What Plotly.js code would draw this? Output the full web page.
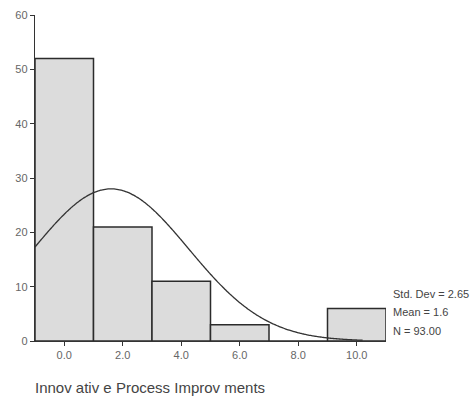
<!DOCTYPE html>
<html>
<head>
<meta charset="utf-8">
<script src="https://cdn.plot.ly/plotly-3.0.1.min.js"></script>
<style>
  html, body { margin: 0; padding: 0; background: #fff; }
  #chart { width: 473px; height: 398px; }
</style>
</head>
<body>
<div id="chart"></div>
<script>
// Histogram of innovative process improvements (bin width 2)
const binCenters = [0, 2, 4, 6, 8, 10];
const binCounts = [52, 21, 11, 3, 0, 6];
const tickValues = [0, 2, 4, 6, 8, 10];
const tickLabels = ['0.0', '2.0', '4.0', '6.0', '8.0', '10.0'];

// Summary statistics shown beside the plot
const stdDev = 2.65;
const mean = 1.6;
const nCases = 93;
const binWidth = 2;
const statLines = ['Std. Dev = 2.65', 'Mean = 1.6', 'N = 93.00'];

// Normal curve scaled to the histogram counts
const curveStart = -1, curveEnd = 10.2, curveStep = 0.05;
const curveX = [], curveY = [];
for (let x = curveStart; x <= curveEnd + 1e-9; x += curveStep) {
  const z = (x - mean) / stdDev;
  curveX.push(x);
  curveY.push(nCases * binWidth / (stdDev * Math.sqrt(2 * Math.PI)) * Math.exp(-0.5 * z * z));
}

const bars = {
  type: 'bar',
  x: binCenters,
  y: binCounts,
  width: binWidth,
  marker: { color: '#dcdcdc', line: { color: '#2b2b2b', width: 1.5 } },
  hoverinfo: 'x+y'
};

const curve = {
  type: 'scatter',
  mode: 'lines',
  x: curveX,
  y: curveY,
  line: { color: '#333333', width: 1.3, shape: 'spline' },
  hoverinfo: 'skip'
};

const font = 'Liberation Sans, Arial, sans-serif';

const statAnnotations = statLines.map((t, i) => ({
  text: t,
  xref: 'paper', yref: 'paper',
  x: 1.013, y: [0.144, 0.088, 0.030][i],
  xanchor: 'left', yanchor: 'middle',
  showarrow: false,
  font: { family: font, size: 11, color: '#444' }
}));

const layout = {
  width: 473,
  height: 398,
  margin: { l: 35, r: 87, t: 15, b: 57 },
  paper_bgcolor: '#ffffff',
  plot_bgcolor: '#ffffff',
  showlegend: false,
  bargap: 0,
  xaxis: {
    range: [-1, 11],
    tickvals: tickValues,
    ticktext: tickLabels,
    ticks: 'outside',
    ticklen: 4,
    tickcolor: '#333',
    showline: true,
    linecolor: '#333',
    linewidth: 1.2,
    showgrid: false,
    zeroline: false,
    tickfont: { family: font, size: 11, color: '#666' }
  },
  yaxis: {
    range: [0, 60],
    dtick: 10,
    ticks: 'outside',
    ticklen: 4,
    tickcolor: '#333',
    showline: true,
    linecolor: '#333',
    linewidth: 1.2,
    showgrid: false,
    zeroline: false,
    tickfont: { family: font, size: 11, color: '#666' }
  },
  annotations: [
    {
      text: 'Innov ativ e Process Improv ments',
      xref: 'paper', yref: 'paper',
      x: -0.006, y: -0.144,
      xanchor: 'left', yanchor: 'middle',
      showarrow: false,
      font: { family: font, size: 15, color: '#444' }
    }
  ].concat(statAnnotations)
};

Plotly.newPlot('chart', [bars, curve], layout, { displayModeBar: false, staticPlot: true });
</script>
</body>
</html>
